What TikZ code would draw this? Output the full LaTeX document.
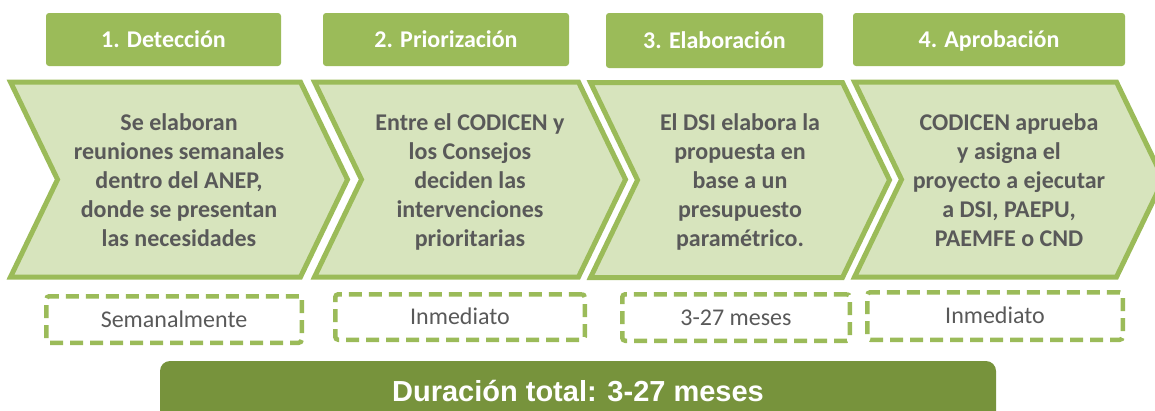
\documentclass[tikz,border=0pt]{standalone}
\usepackage{fontspec}
\setmainfont{Carlito}
\newfontfamily\arialfont{Liberation Sans}
\usepackage{xcolor}
\definecolor{hgreen}{RGB}{155,187,89}
\definecolor{lgreen}{RGB}{215,228,189}
\definecolor{dgreen}{RGB}{119,147,60}
\definecolor{tgray}{RGB}{89,89,89}
\usepackage{tikz}
\usetikzlibrary{shapes.symbols}

\begin{document}
\begin{tikzpicture}[
  x=1pt,y=-1pt,
  hbox/.style={rectangle,rounded corners=3pt,fill=hgreen,text=white,inner sep=0pt,minimum height=53pt,text height=15.5pt,text depth=0pt,font=\fontsize{24}{29}\selectfont\bfseries},
  chev/.style={signal,signal from=west,signal to=east,signal pointer angle=128.5,draw=hgreen,line width=5pt,fill=lgreen,minimum height=195pt,inner sep=0pt,align=center,text=tgray,text height=133pt,text depth=0pt,font=\fontsize{24}{29}\selectfont\bfseries},
  dbox/.style={rectangle,rounded corners=3pt,draw=hgreen,line width=4.5pt,dash pattern=on 13pt off 7pt,inner sep=0pt,text=tgray,text height=15.5pt,text depth=0pt,font=\fontsize{24}{29}\selectfont},
  tbox/.style={rectangle,rounded corners=10pt,fill=dgreen,text=white,inner sep=0pt,text height=21pt,text depth=0pt,font=\arialfont\fontsize{29}{35}\selectfont\bfseries}
]
  \useasboundingbox (0,0) rectangle (1155,410);
  \clip (0,0) rectangle (1155,410);

  % Phases
  \node[hbox,minimum width=235pt] (h1) at (163.5,39.5) {1. Detección};
  \node[hbox,minimum width=246pt] (h2) at (446,39.5) {2. Priorización};
  \node[hbox,minimum width=217pt,minimum height=55pt] (h3) at (714.5,40.5) {3. Elaboración};
  \node[hbox,minimum width=272pt] (h4) at (989,39.5) {4. Aprobación};

  % Steps
  \node[chev,minimum width=337pt] (c1) at (179,179.5) {Se elaboran\\reuniones semanales\\dentro del ANEP,\\donde se presentan\\las necesidades};
  \node[chev,minimum width=311pt] (c2) at (470,179.5) {Entre el CODICEN y\\los Consejos\\deciden las\\intervenciones\\prioritarias};
  \node[chev,minimum width=299pt] (c3) at (740,180) {El DSI elabora la\\propuesta en\\base a un\\presupuesto\\paramétrico.};
  \node[chev,minimum width=309pt] (c4) at (1009,179.5) {CODICEN aprueba\\y asigna el\\proyecto a ejecutar\\a DSI, PAEPU,\\PAEMFE o CND};

  % Durations
  \node[dbox,minimum width=255.5pt,minimum height=46.5pt] (d1) at (174,319.5) {Semanalmente};
  \node[dbox,minimum width=249.5pt,minimum height=45.5pt] (d2) at (460,317) {Inmediato};
  \node[dbox,minimum width=227.5pt,minimum height=46.5pt] (d3) at (736,317.5) {3-27 meses};
  \node[dbox,minimum width=255.5pt,minimum height=47.5pt] (d4) at (995,316) {Inmediato};

  % Total
  \node[tbox,minimum width=836pt,minimum height=60pt] (tot) at (578,391) {Duración total: 3-27 meses};
\end{tikzpicture}
\end{document}
